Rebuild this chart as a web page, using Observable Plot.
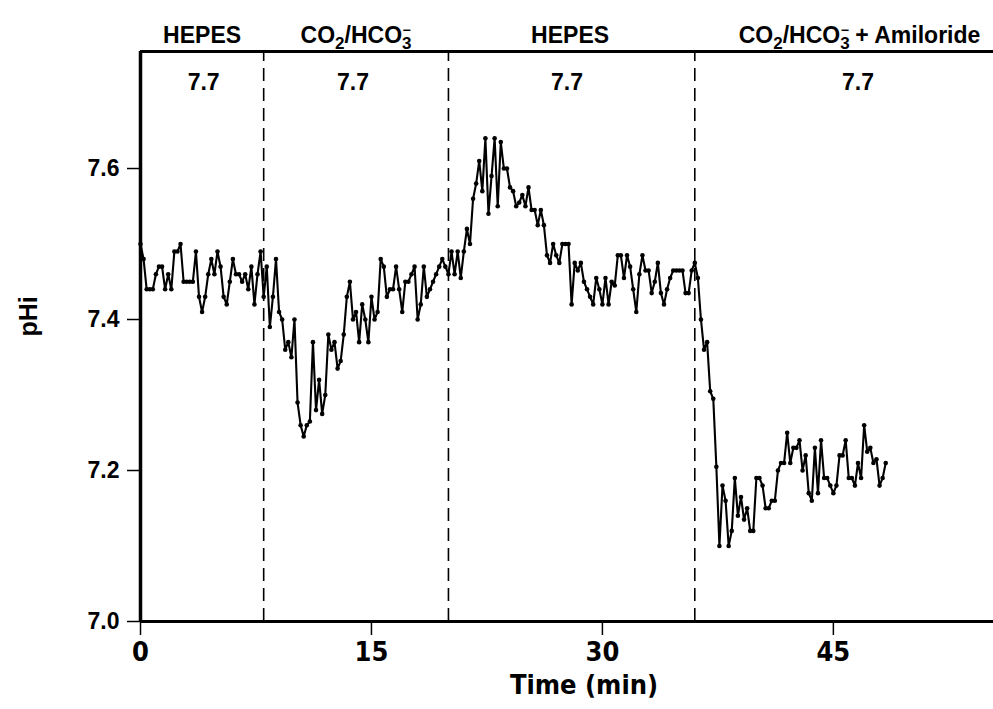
<!DOCTYPE html>
<html>
<head>
<meta charset="utf-8">
<script src="https://cdn.jsdelivr.net/npm/d3@7"></script>
<script src="https://cdn.jsdelivr.net/npm/@observablehq/plot@0.6"></script>
<style>
  body { margin: 0; background: #fff; }
</style>
</head>
<body>
<div id="chart"></div>
<script>
// ---- data (pHi, one sample every 0.2 min) ----
const sampleStep = 0.2; // min
const periodStart = [0, 8, 20, 36]; // min, start of each perfusion period
const hepes1 = [7.50,7.48,7.44,7.44,7.44,7.46,7.47,7.47,7.44,7.46,
                7.44,7.49,7.49,7.50,7.45,7.45,7.45,7.45,7.49,7.43,
                7.41,7.43,7.46,7.48,7.46,7.49,7.47,7.43,7.42,7.45,
                7.48,7.46,7.46,7.45,7.46,7.44,7.47,7.42,7.46,7.49];
const co2bicarb = [7.43,7.47,7.39,7.43,7.48,7.41,7.40,7.36,7.37,7.35,
                   7.40,7.29,7.26,7.245,7.26,7.265,7.37,7.28,7.32,7.275,
                   7.30,7.38,7.36,7.37,7.335,7.345,7.38,7.43,7.45,7.40,
                   7.41,7.37,7.42,7.40,7.37,7.43,7.40,7.41,7.48,7.47,
                   7.43,7.44,7.44,7.47,7.44,7.41,7.45,7.45,7.46,7.47,
                   7.40,7.42,7.47,7.43,7.44,7.45,7.46,7.47,7.48,7.47];
const hepes2 = [7.46,7.49,7.46,7.49,7.455,7.49,7.52,7.50,7.56,7.58,
                7.61,7.57,7.64,7.54,7.59,7.64,7.55,7.635,7.60,7.60,
                7.575,7.57,7.55,7.555,7.565,7.55,7.575,7.545,7.545,7.525,
                7.545,7.525,7.485,7.475,7.50,7.485,7.475,7.50,7.50,7.50,
                7.42,7.475,7.465,7.475,7.45,7.44,7.43,7.42,7.455,7.44,
                7.42,7.455,7.42,7.45,7.445,7.485,7.485,7.455,7.485,7.47,
                7.44,7.41,7.46,7.485,7.465,7.465,7.435,7.45,7.475,7.435,
                7.42,7.44,7.455,7.465,7.465,7.465,7.465,7.435,7.435,7.465];
const co2Amiloride = [7.475,7.455,7.40,7.36,7.37,7.305,7.295,7.205,7.10,7.18,
                      7.16,7.10,7.12,7.19,7.14,7.165,7.135,7.15,7.12,7.12,
                      7.19,7.19,7.18,7.15,7.15,7.16,7.16,7.20,7.21,7.21,
                      7.25,7.21,7.23,7.23,7.24,7.20,7.22,7.17,7.16,7.23,
                      7.17,7.24,7.19,7.19,7.18,7.17,7.18,7.22,7.22,7.24,
                      7.19,7.19,7.18,7.21,7.19,7.26,7.225,7.23,7.21,7.215,
                      7.18,7.19,7.21];

const periodNames = ["HEPES", "CO2/HCO3-", "HEPES", "CO2/HCO3- + Amiloride"];
const periodNameTime = [4.0, 14.0, 27.9, 46.7];
const bathPH = ["7.7", "7.7", "7.7", "7.7"];
const bathPHTime = [4.1, 13.8, 27.7, 46.6];
const boundaries = [8, 20, 36];
const xTicks = [0, 15, 30, 45];
const yTicks = [7.0, 7.2, 7.4, 7.6];
const xDomain = [0, 55.4];
const yDomain = [7.0, 7.755];

// ---- build table ----
const series = [hepes1, co2bicarb, hepes2, co2Amiloride];
const data = [];
series.forEach((vals, s) => vals.forEach((v, i) => data.push({t: periodStart[s] + i * sampleStep, ph: v})));
const headers = periodNames.map((label, i) => ({label, t: periodNameTime[i]}));
const phLabels = bathPH.map((label, i) => ({label, t: bathPHTime[i]}));

const sans = "'Liberation Sans', Arial, Helvetica, sans-serif";
const narrow = "'Liberation Sans Narrow', 'DejaVu Sans Condensed', 'Arial Narrow', sans-serif";

const chart = Plot.plot({
  width: 993,
  height: 709,
  marginLeft: 140,
  marginRight: 0,
  marginTop: 51,
  marginBottom: 88,
  style: {fontFamily: sans, fontWeight: "bold", color: "black", background: "white"},
  x: {domain: xDomain},
  y: {domain: yDomain},
  marks: [
    Plot.axisX({ticks: xTicks, tickSize: 14, tickPadding: 6, fontSize: 27, fontFamily: narrow, fontWeight: "bold", strokeWidth: 1.5, label: null}),
    Plot.axisY({ticks: yTicks, tickSize: 13, tickPadding: 8, fontSize: 23, fontWeight: "bold", strokeWidth: 1.5, tickFormat: d => d.toFixed(1), label: null}),
    Plot.ruleX(boundaries, {y1: yDomain[0], y2: yDomain[1], stroke: "black", strokeWidth: 1.6, strokeDasharray: "13,7"}),
    Plot.line(data, {x: "t", y: "ph", stroke: "black", strokeWidth: 2.1}),
    Plot.dot(data, {x: "t", y: "ph", r: 2.3, fill: "black", stroke: null}),
    Plot.ruleY([yDomain[0], yDomain[1]], {stroke: "black", strokeWidth: 3}),
    Plot.ruleX([xDomain[0]], {stroke: "black", strokeWidth: 3.5}),
    Plot.text(headers, {x: "t", text: "label", frameAnchor: "top", dy: -25, fontSize: 23, fontWeight: "bold", fill: "black"}),
    Plot.text(phLabels, {x: "t", text: "label", frameAnchor: "top", dy: 22, fontSize: 23, fontWeight: "bold", fill: "black"}),
    Plot.text(["Time (min)"], {frameAnchor: "bottom", dy: 72, dx: 17, fontSize: 27, fontFamily: narrow, fontWeight: "bold", fill: "black"}),
    Plot.text(["pHi"], {frameAnchor: "left", dx: -112, rotate: -90, fontSize: 25, fontWeight: "bold", fill: "black"})
  ]
});

// chemical formula typesetting: subscripts 2 and 3, minus stacked over the 3
d3.select(chart).selectAll("text").each(function() {
  const s = this.textContent;
  if (!s.startsWith("CO2/HCO3-")) return;
  const rest = s.slice("CO2/HCO3-".length);
  const t = d3.select(this);
  t.text(null);
  t.append("tspan").text("CO");
  t.append("tspan").attr("dy", 6).attr("font-size", 17).text("2");
  t.append("tspan").attr("dy", -6).text("/HCO");
  t.append("tspan").attr("dy", 6).attr("font-size", 17).text("3");
  t.append("tspan").attr("dx", -9).attr("dy", -14).attr("font-size", 14).text("\u2212");
  if (rest) t.append("tspan").attr("dy", 8).text(rest);
});

document.getElementById("chart").append(chart);
</script>
</body>
</html>
